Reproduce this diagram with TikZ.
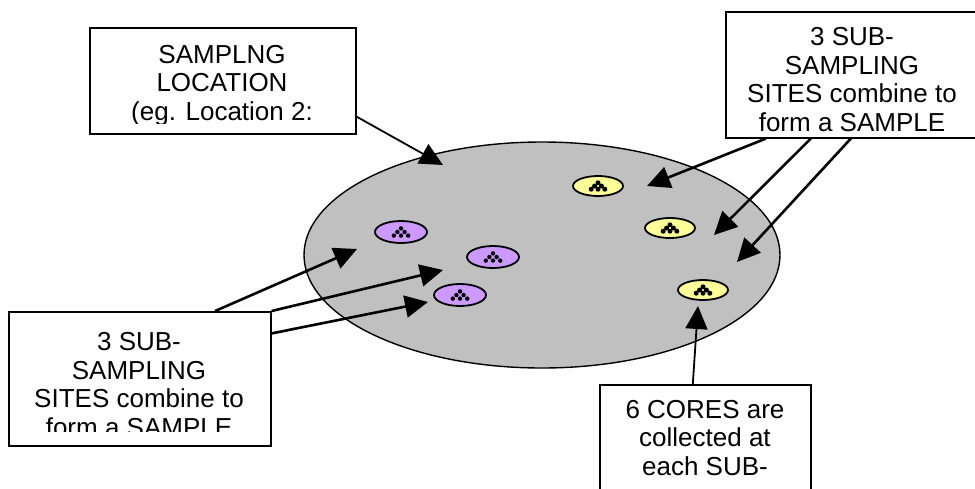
\documentclass[tikz,border=0pt]{standalone}
\usepackage{fontspec}
\setmainfont{Liberation Sans}
\usetikzlibrary{arrows.meta,shapes.geometric}

\definecolor{grisbase}{HTML}{C0C0C0}
\definecolor{lila}{HTML}{CC99FF}
\definecolor{amarillo}{HTML}{FFFF99}

\tikzstyle{caja}= [rectangle,draw,black,line width=1.6pt,fill=white,inner sep=0pt,anchor=north west]
\tikzstyle{texto}= [align=center,anchor=base,inner sep=0pt,font=\fontsize{26}{28.5}\selectfont]
\tikzstyle{sitiolila}= [ellipse,draw,black,line width=1.8pt,fill=lila,minimum width=52pt,minimum height=22pt,inner sep=0pt]
\tikzstyle{sitioamarillo}= [ellipse,draw,black,line width=1.8pt,fill=amarillo,minimum width=50pt,minimum height=20pt,inner sep=0pt]
\tikzstyle{flecha}= [black,line width=2.6pt,-{Triangle[length=23pt,width=22pt]}]
\tikzstyle{flechafina}= [black,line width=1.8pt,-{Triangle[length=23pt,width=22pt]}]

\begin{document}
\begin{tikzpicture}[x=1pt,y=-1pt]

		\useasboundingbox (0,0) rectangle (975,488);
		\clip (0,0) rectangle (975,488);

		\node (lugar) at (542,255) [ellipse,draw,black,line width=1.4pt,fill=grisbase,minimum width=476pt,minimum height=226pt,inner sep=0pt] {};

		\node (l1) at (401,232) [sitiolila] {};
		\node (l2) at (493,257) [sitiolila] {};
		\node (l3) at (460,295) [sitiolila] {};
		\node (a1) at (598,186) [sitioamarillo] {};
		\node (a2) at (670,228) [sitioamarillo] {};
		\node (a3) at (703,290) [sitioamarillo] {};

		% 6 nucleos en cada sitio
		\foreach \s in {l1,l2,l3}
			\foreach \dx/\dy in {0/-3.6,-3.6/0,3.6/0,-7.2/3.6,0/3.6,7.2/3.6}
				\fill[black] ([shift={(\dx,\dy)}]\s.center) circle (2.2pt);
		\foreach \s in {a1,a2,a3}
			\foreach \dx/\dy in {0/-3.2,-3.4/0,3.4/0,-6.8/3.2,0/3.2,6.8/3.2}
				\fill[black] ([shift={(\dx,\dy)}]\s.center) circle (2.5pt);

		\node (ubic) at (89,27) [caja,minimum width=266pt,minimum height=106pt] {};
		\begin{scope}
			\clip (89,27) rectangle (355,123);
			\node (ubictxt) at (222,120) [texto] {SAMPLNG\\LOCATION\\(eg. Location 2:};
		\end{scope}

		\node (subder) at (725,11) [caja,minimum width=254pt,minimum height=126pt] {};
		\node (subdertxt) at (852,131) [texto] {3 SUB-\\SAMPLING\\SITES combine to\\form a SAMPLE};

		\node (subizq) at (8,311) [caja,minimum width=262pt,minimum height=134pt] {};
		\begin{scope}
			\clip (8,311) rectangle (270,431);
			\node (subizqtxt) at (139,436) [texto] {3 SUB-\\SAMPLING\\SITES combine to\\form a SAMPLE};
		\end{scope}

		\node (nucleos) at (599,384) [caja,minimum width=211pt,minimum height=140pt] {};
		\node (nucleostxt) at (705,475) [texto] {6 CORES are\\collected at\\each SUB-};

		\coordinate (p1) at (443,165);
		\coordinate (pl1) at (357,249);
		\coordinate (pl2) at (443,270);
		\coordinate (pl3) at (428,302);
		\coordinate (pa1) at (647,186);
		\coordinate (pa2) at (714,235);
		\coordinate (pa3) at (737,262);
		\coordinate (pa4) at (698,306);

		\path[flechafina] (ubic.-15.5) edge[] (p1);

		\path[flecha] (subizq.42.2) edge[] (pl1);
		\path[flecha] (subizq.north east) edge[] (pl2);
		\path[flecha] (subizq.19) edge[] (pl3);

		\path[flecha] ([xshift=-87pt]subder.south) edge[] (pa1);
		\path[flecha] ([xshift=-42pt]subder.south) edge[] (pa2);
		\path[flecha] ([xshift=-2pt]subder.south) edge[] (pa3);

		\path[flechafina] ([xshift=-12.5pt]nucleos.north) edge[] (pa4);

	\end{tikzpicture}
\end{document}
